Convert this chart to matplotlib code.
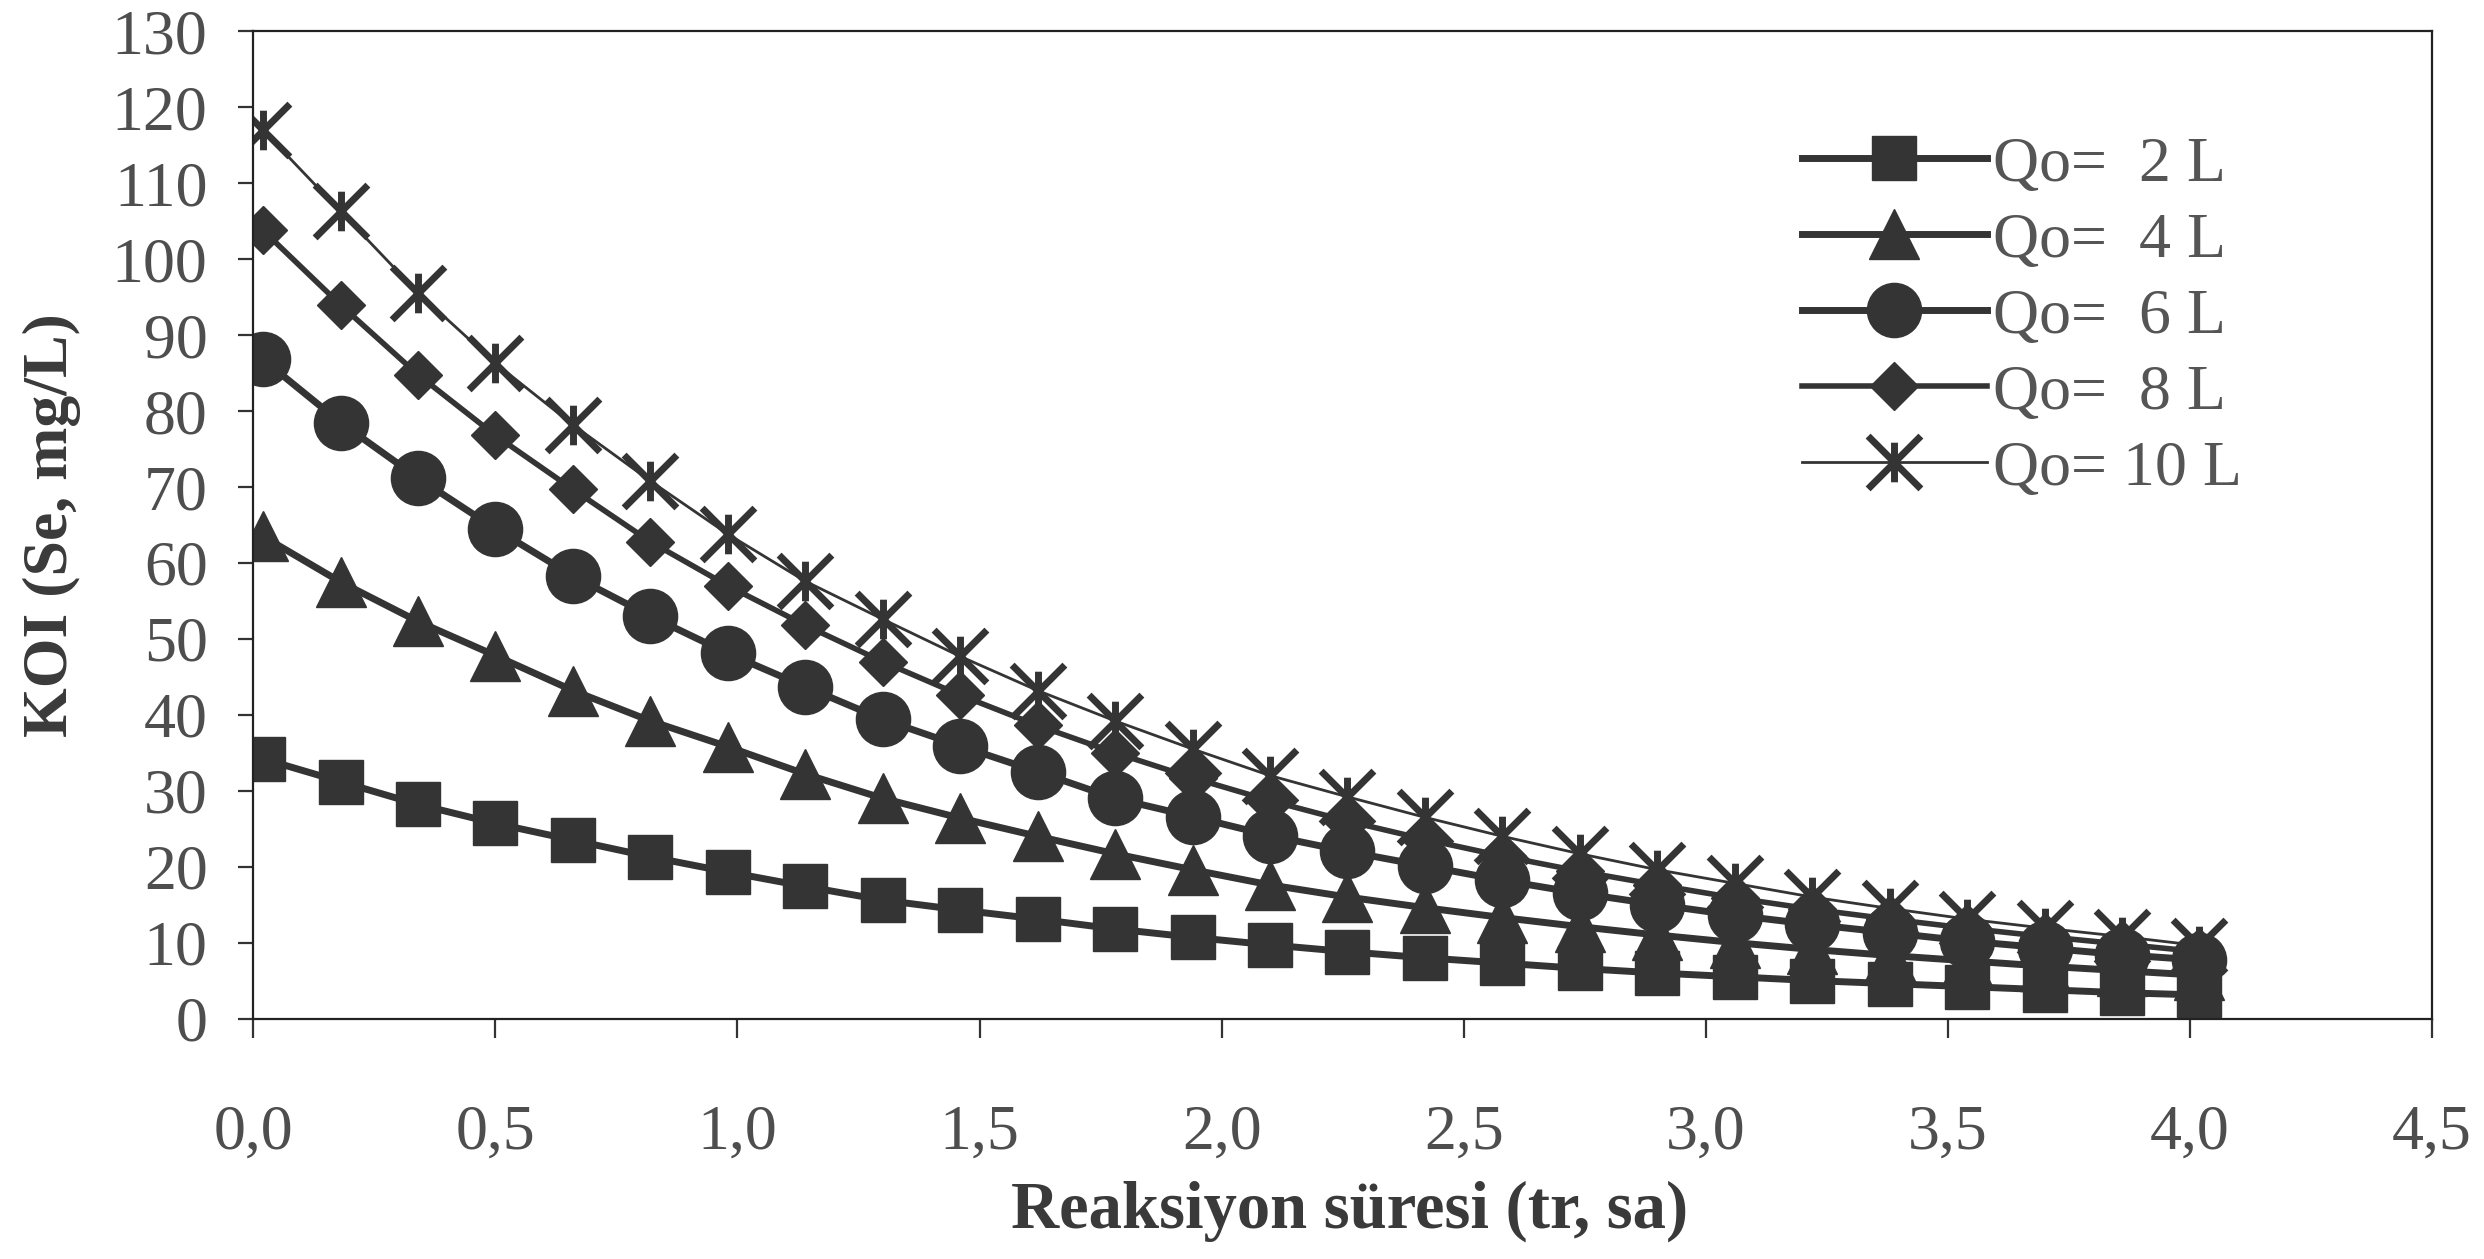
import numpy as np
import matplotlib.pyplot as plt
from matplotlib.path import Path
from matplotlib.ticker import FuncFormatter, MultipleLocator

# reaction time (h) and COD values
t = [0.02, 0.18, 0.34, 0.50, 0.66, 0.82, 0.98, 1.14, 1.30, 1.46, 1.62, 1.78, 1.94,
     2.10, 2.26, 2.42, 2.58, 2.74, 2.90, 3.06, 3.22, 3.38, 3.54, 3.70, 3.86, 4.02]

q2 = [34.2, 31.2, 28.2, 25.7, 23.5, 21.3, 19.3, 17.4, 15.6, 14.3, 13.1, 11.8, 10.7,
      9.7, 8.8, 8.0, 7.3, 6.6, 6.0, 5.5, 5.0, 4.6, 4.2, 3.8, 3.4, 3.1]
q4 = [63.5, 57.5, 52.3, 47.8, 43.2, 39.2, 35.8, 32.2, 29.0, 26.4, 24.0, 21.7, 19.6,
      17.6, 16.0, 14.6, 13.3, 12.1, 11.0, 10.0, 9.1, 8.3, 7.6, 6.9, 6.3, 5.7]
q6 = [86.8, 78.5, 71.2, 64.5, 58.3, 53.0, 48.1, 43.7, 39.4, 35.9, 32.5, 29.0, 26.6,
      24.1, 22.0, 20.1, 18.2, 16.5, 15.0, 13.6, 12.4, 11.3, 10.2, 9.3, 8.4, 7.7]
q8 = [103.8, 94.0, 84.8, 76.8, 69.7, 62.8, 57.0, 51.8, 47.0, 42.6, 38.6, 35.0, 31.7,
      28.7, 26.0, 23.6, 21.4, 19.4, 17.6, 15.9, 14.4, 13.1, 11.9, 10.8, 9.8, 8.8]
q10 = [117.0, 106.3, 95.6, 86.3, 78.2, 70.8, 63.8, 57.6, 52.6, 47.7, 43.2, 39.2, 35.5,
       32.0, 29.2, 26.5, 24.0, 21.7, 19.6, 17.8, 16.0, 14.5, 13.1, 11.9, 10.8, 9.6]

labels = ["Qo=  2 L", "Qo=  4 L", "Qo=  6 L", "Qo=  8 L", "Qo= 10 L"]

dark = "#343434"
txt = "#4e4e4e"

# excel style "star": an X with a short vertical bar
star = Path([(-1, -1), (1, 1), (-1, 1), (1, -1), (0, -0.75), (0, 0.75)],
            [Path.MOVETO, Path.LINETO, Path.MOVETO, Path.LINETO, Path.MOVETO, Path.LINETO])

plt.rcParams['font.family'] = ['Liberation Serif', 'DejaVu Serif']

fig = plt.figure(figsize=(24.84, 12.59), dpi=100)
ax = fig.add_axes([0.102, 0.191, 0.877, 0.784])

ax.plot(t, q2, color=dark, lw=5, marker='s', ms=32, mfc=dark, mec=dark, label=labels[0])
ax.plot(t, q4, color=dark, lw=5, marker='^', ms=36, mfc=dark, mec=dark, label=labels[1])
ax.plot(t, q6, color=dark, lw=5, marker='o', ms=39, mfc=dark, mec=dark, label=labels[2])
ax.plot(t, q8, color=dark, lw=4, marker='D', ms=24, mfc=dark, mec=dark, label=labels[3])
ax.plot(t, q10, color=dark, lw=2, marker=star, ms=38, mec=dark, mew=5, label=labels[4])

ax.set_xlim(0, 4.5)
ax.set_ylim(0, 130)
ax.xaxis.set_major_locator(MultipleLocator(0.5))
ax.yaxis.set_major_locator(MultipleLocator(10))
ax.xaxis.set_major_formatter(FuncFormatter(lambda v, p: f"{v:.1f}".replace('.', ',')))
ax.yaxis.set_major_formatter(FuncFormatter(lambda v, p: f"{v:.0f}"))

for s in ax.spines.values():
    s.set_linewidth(1.6)
    s.set_color("#222222")

ax.tick_params(axis='x', direction='out', length=14, width=1.6, pad=48,
               labelsize=46, labelcolor=txt, color="#333333")
ax.tick_params(axis='y', direction='out', length=11, width=1.6, pad=22,
               labelsize=46, labelcolor=txt, color="#333333")

ax.set_xlabel("Reaksiyon süresi (tr, sa)", fontsize=48, fontweight='bold', color="#3a3a3a")
ax.set_ylabel("KOI (Se, mg/L)", fontsize=46, fontweight='bold', color="#3a3a3a")
ax.xaxis.set_label_coords(0.503, -0.164)
ax.yaxis.set_label_coords(-0.079, 0.5)

leg = ax.legend(loc='upper left', bbox_to_anchor=(0.699, 0.92), frameon=False,
                fontsize=46, handlelength=2.9, handletextpad=0.1, labelspacing=0.27,
                borderaxespad=0)
for tx in leg.get_texts():
    tx.set_color("#555555")

fig.savefig("out.png", dpi=100, facecolor='white')
